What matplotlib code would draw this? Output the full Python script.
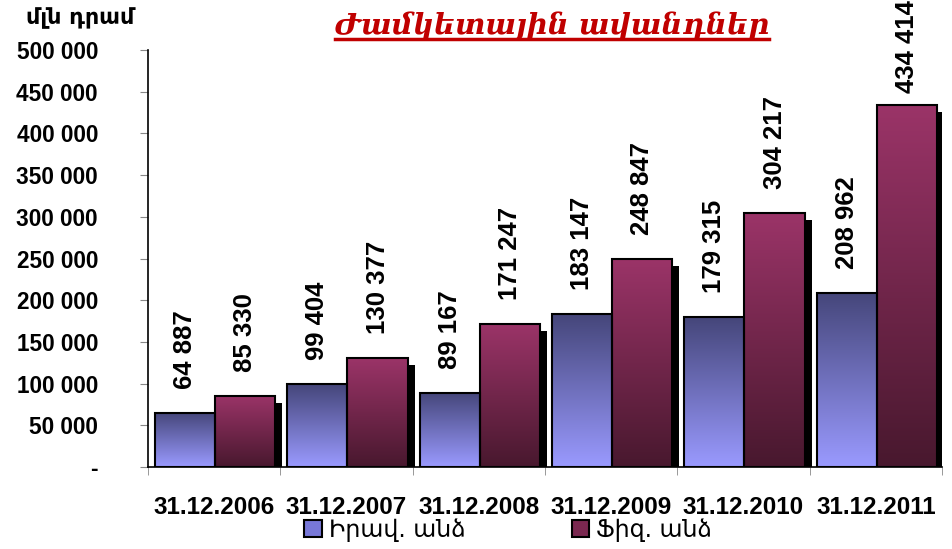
import matplotlib
matplotlib.use("Agg")
import matplotlib.pyplot as plt
import numpy as np
from matplotlib.patches import Patch
from matplotlib.lines import Line2D

# data
dates = ['31.12.2006', '31.12.2007', '31.12.2008', '31.12.2009', '31.12.2010', '31.12.2011']
legal = [64887, 99404, 89167, 183147, 179315, 208962]
physical = [85330, 130377, 171247, 248847, 304217, 434414]
series_names = ['Իրավ. անձ', 'Ֆիզ. անձ']
title = 'Ժամկետային ավանդներ'
unit = 'մլն դրամ'

blue_top, blue_bot = '#45467a', '#9a9aff'
red_top, red_bot = '#9b3468', '#48182e'

fig = plt.figure(figsize=(9.52, 5.49), dpi=100)
ax = fig.add_axes([148 / 952, 82 / 549, 794 / 952, 417 / 549])

x = np.arange(len(dates))
w = 0.455
ymax = 500000
px_y = ymax / 417.0
px_x = 1 / 132.0


def gradient_fill(bars, c_top, c_bot):
    ct = np.array(matplotlib.colors.to_rgb(c_top))
    cb = np.array(matplotlib.colors.to_rgb(c_bot))
    t = np.linspace(0, 1, 256)[:, None]
    img = (ct[None, :] * (1 - t) + cb[None, :] * t)[:, None, :]
    for b in bars:
        x0, h, bw = b.get_x(), b.get_height(), b.get_width()
        im = ax.imshow(img, extent=[x0, x0 + bw, 0, h], aspect='auto',
                       origin='upper', zorder=2, interpolation='bilinear')
        im.set_clip_path(b)


# shadows behind the maroon bars
ax.bar(x + 0.235 + 7 * px_x, np.array(physical) - 7 * px_y, w,
       color='black', zorder=1)

b1 = ax.bar(x - 0.22, legal, w, facecolor='none', edgecolor='black', linewidth=1.5, zorder=3)
b2 = ax.bar(x + 0.235, physical, w, facecolor='none', edgecolor='black', linewidth=1.5, zorder=3)
gradient_fill(b1, blue_top, blue_bot)
gradient_fill(b2, red_top, red_bot)


def fmt(v):
    return f'{v:,.0f}'.replace(',', ' ')


# labels sit ~24 px above the bars, the tallest one is squeezed under the top edge
for xs, vals in ((x - 0.22, legal), (x + 0.235, physical)):
    for xi, v in zip(xs, vals):
        gap = 12 if v > 400000 else 24
        ax.text(xi, v + gap * px_y, fmt(v),
                rotation=90, ha='center', va='bottom', fontsize=18.5,
                fontweight='bold', family='Liberation Sans')

ax.set_xlim(-0.5, len(dates) - 0.5)
ax.set_ylim(0, ymax)
yt = np.arange(0, ymax + 1, 50000)
ax.set_yticks(yt)
ax.set_yticklabels(['-' if v == 0 else fmt(v) for v in yt],
                   fontsize=16.3, fontweight='bold', family='Liberation Sans')
ax.set_xticks(x)
ax.set_xticklabels(dates, fontsize=17.5, fontweight='bold', family='Liberation Sans')
ax.set_xticks(np.arange(-0.5, len(dates)), minor=True)
ax.tick_params(axis='x', which='major', length=0, pad=21)
ax.tick_params(axis='x', which='minor', length=6, color='#888888', direction='out')
ax.tick_params(axis='y', length=6, color='#888888', pad=30)
for s in ('top', 'right'):
    ax.spines[s].set_visible(False)
ax.spines['left'].set_linewidth(1.2)
ax.spines['bottom'].set_linewidth(1.2)

fig.text(80 / 952, 1 - 18 / 549, unit, fontsize=16, fontweight='bold',
         family='DejaVu Sans', ha='center', va='center')

t = fig.text(552 / 952, 1 - 26 / 549, title, fontsize=21, fontweight='bold',
             style='italic', family='DejaVu Serif', color='#c00000',
             ha='center', va='center')
fig.canvas.draw()
bb = t.get_window_extent().transformed(fig.transFigure.inverted())
fig.add_artist(Line2D([bb.x0, bb.x1], [bb.y0 + 0.002, bb.y0 + 0.002],
                      transform=fig.transFigure, color='#c00000', linewidth=2.5))

handles = [Patch(facecolor='#7878d8', edgecolor='black', linewidth=1.5),
           Patch(facecolor='#7a2850', edgecolor='black', linewidth=1.5)]
fig.legend(handles, series_names, loc='center', bbox_to_anchor=(508 / 952, 1 - 530 / 549),
           ncol=2, frameon=False, prop={'family': 'DejaVu Sans', 'size': 17},
           handlelength=0.75, handleheight=0.75, handletextpad=0.3, columnspacing=4.5)

fig.savefig('out.png', dpi=100)
